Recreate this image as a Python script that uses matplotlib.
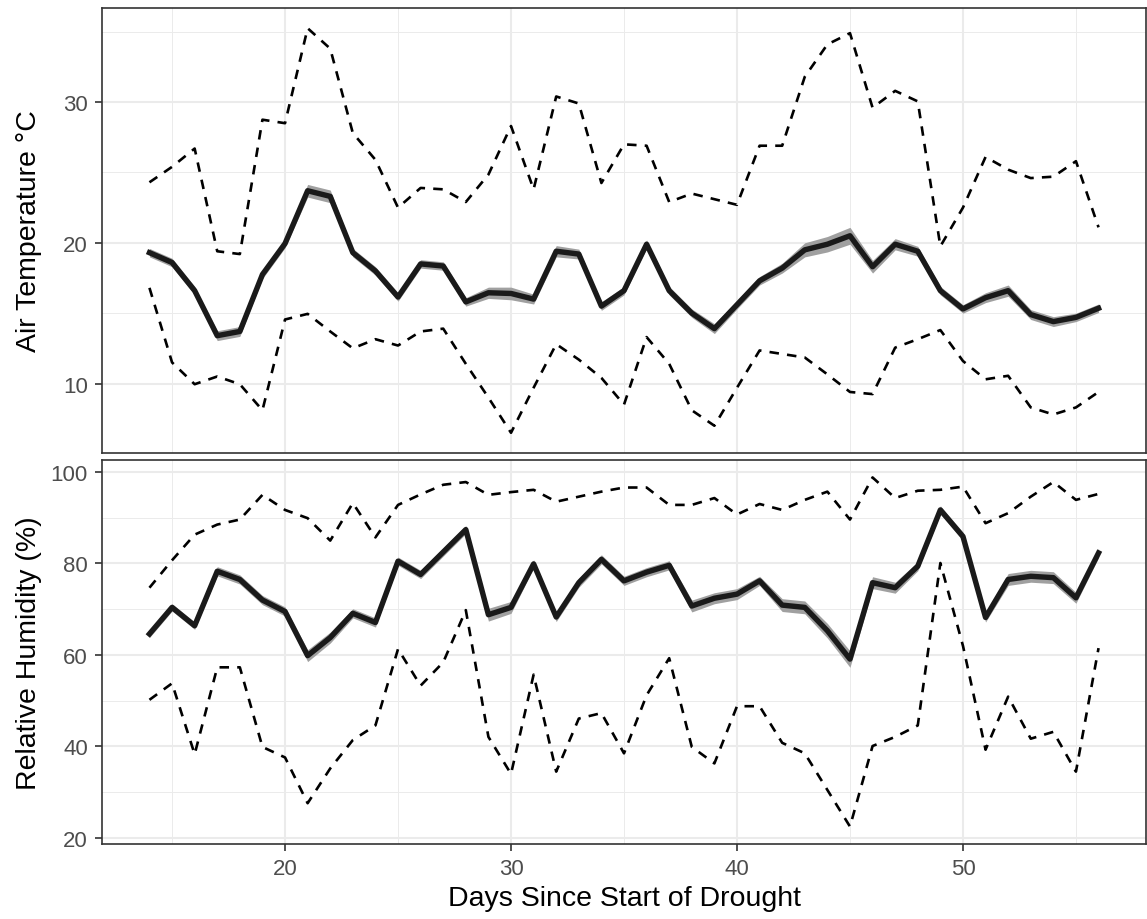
import numpy as np
import matplotlib

matplotlib.use('Agg')  # no display
import matplotlib.pyplot as plt
from matplotlib.ticker import MultipleLocator

plt.rcParams['font.family'] = ['Liberation Sans', 'DejaVu Sans']

# Data
days = list(range(14, 57))

temp_mean = [19.3, 18.6, 16.6, 13.4, 13.7, 17.75, 19.95, 23.7, 23.3, 19.3, 18.0,
             16.15, 18.5, 18.35, 15.8, 16.45, 16.4, 16.0, 19.4, 19.2, 15.5, 16.6,
             19.9, 16.6, 15.0, 13.9, 15.6, 17.3, 18.2, 19.5, 19.9, 20.5, 18.3,
             19.9, 19.4, 16.6, 15.3, 16.1, 16.6, 14.9, 14.4, 14.7, 15.35]
temp_se = [0.3, 0.3, 0.3, 0.35, 0.35, 0.3, 0.3, 0.45, 0.45, 0.3, 0.3,
           0.3, 0.3, 0.3, 0.3, 0.4, 0.45, 0.35, 0.4, 0.35, 0.3, 0.3,
           0.3, 0.3, 0.3, 0.35, 0.3, 0.3, 0.35, 0.5, 0.55, 0.6, 0.45,
           0.4, 0.35, 0.3, 0.3, 0.35, 0.4, 0.35, 0.35, 0.3, 0.3]
temp_max = [24.3, 25.4, 26.7, 19.4, 19.2, 28.75, 28.5, 35.25, 33.8, 27.8, 25.9,
            22.5, 23.9, 23.8, 22.9, 24.85, 28.3, 23.8, 30.4, 29.9, 24.25, 27.0,
            26.9, 22.9, 23.5, 23.1, 22.7, 26.9, 26.9, 31.8, 34.1, 34.9, 29.6,
            30.8, 30.05, 19.75, 22.5, 26.1, 25.2, 24.6, 24.7, 25.8, 21.1]
temp_min = [16.8, 11.5, 9.95, 10.5, 9.95, 8.1, 14.55, 14.95, 13.7, 12.5, 13.15,
            12.7, 13.7, 13.9, 11.4, 9.0, 6.5, 9.7, 12.8, 11.7, 10.4, 8.5,
            13.3, 11.4, 8.1, 7.0, 9.7, 12.35, 12.1, 11.85, 10.65, 9.4, 9.25,
            12.55, 13.15, 13.8, 11.6, 10.3, 10.55, 8.3, 7.8, 8.3, 9.4]

rh_mean = [64.6, 70.4, 66.4, 78.3, 76.5, 72.0, 69.5, 59.85, 63.8, 69.1, 67.1,
           80.5, 77.6, 82.5, 87.4, 68.8, 70.4, 79.9, 68.3, 75.8, 80.9, 76.2,
           78.1, 79.6, 70.7, 72.4, 73.3, 76.2, 70.9, 70.4, 65.3, 59.1, 75.8,
           74.7, 79.4, 91.7, 85.9, 68.2, 76.5, 77.2, 76.9, 72.5, 82.3]
rh_se = [0.8, 0.8, 0.8, 1.0, 1.0, 1.0, 1.0, 1.3, 1.2, 1.0, 1.0,
         0.9, 0.9, 0.9, 0.9, 1.4, 1.3, 0.9, 1.0, 1.0, 1.0, 1.0,
         1.0, 1.0, 1.3, 1.2, 1.2, 1.0, 1.4, 1.4, 1.6, 1.8, 1.3,
         1.2, 1.0, 0.9, 0.9, 1.0, 1.3, 1.3, 1.3, 1.2, 1.0]
rh_max = [74.7, 80.7, 86.3, 88.5, 89.6, 95.0, 91.7, 89.9, 85.0, 93.2, 85.7,
          92.8, 95.1, 97.2, 97.8, 95.0, 95.6, 96.1, 93.5, 94.6, 95.7, 96.6,
          96.6, 92.8, 92.8, 94.3, 90.7, 93.0, 91.7, 93.9, 95.7, 89.6, 98.8,
          94.3, 95.9, 96.1, 96.8, 88.8, 91.0, 94.6, 97.8, 93.9, 95.2]
rh_min = [50.2, 53.8, 38.3, 57.3, 57.3, 39.9, 37.6, 27.6, 35.2, 41.4, 44.6,
          61.3, 53.3, 58.4, 69.8, 42.1, 34.0, 55.7, 34.5, 46.1, 47.3, 38.5,
          51.2, 59.3, 39.9, 36.3, 48.8, 48.8, 40.8, 38.5, 30.5, 22.5, 40.1,
          42.1, 44.6, 80.1, 62.0, 39.3, 50.9, 41.7, 43.2, 34.5, 61.5]


def style_panel(ax, ymajor, yminor, show_x):
    """theme_bw-like look."""
    ax.set_facecolor('white')
    for s in ax.spines.values():
        s.set_color('#333333')
        s.set_linewidth(1.2)
        s.set_zorder(5)
    ax.xaxis.set_major_locator(MultipleLocator(10))
    ax.xaxis.set_minor_locator(MultipleLocator(5))
    ax.yaxis.set_major_locator(MultipleLocator(ymajor))
    ax.yaxis.set_minor_locator(MultipleLocator(yminor))
    ax.grid(which='major', color='#EBEBEB', linewidth=1.45)
    ax.grid(which='minor', color='#EBEBEB', linewidth=0.72)
    ax.set_axisbelow(True)
    ax.tick_params(which='minor', length=0)
    ax.tick_params(which='major', length=5.2, width=1.2, color='#333333',
                   labelsize=16, labelcolor='#4D4D4D', pad=5)
    if not show_x:
        ax.tick_params(axis='x', which='major', length=0, labelbottom=False)


def draw_series(ax, mean, se, hi, lo):
    x = np.array(days)
    m = np.array(mean)
    s = np.array(se)
    ax.fill_between(x, m - s, m + s, color='#A0A0A0', linewidth=0, zorder=2)
    ax.plot(x, m, color='#1A1A1A', linewidth=3.9, solid_joinstyle='round', zorder=3)
    for series in (hi, lo):
        ax.plot(x, series, color='black', linewidth=1.9,
                linestyle=(0, (3.6, 3.1)), dash_capstyle='butt', zorder=3)
    # ggplot style 5% expansion
    lo_v = min(min(lo), min(m - s))
    hi_v = max(max(hi), max(m + s))
    pad = (hi_v - lo_v) * 0.05
    ax.set_ylim(lo_v - pad, hi_v + pad)
    xpad = (max(days) - min(days)) * 0.05
    ax.set_xlim(min(days) - xpad, max(days) + xpad)


fig = plt.figure(figsize=(11.47, 9.2), dpi=100)
ax1 = fig.add_axes([102 / 1147, 1 - 454 / 920, 1044 / 1147, 445 / 920])
ax2 = fig.add_axes([102 / 1147, 1 - 845 / 920, 1044 / 1147, 384 / 920])

draw_series(ax1, temp_mean, temp_se, temp_max, temp_min)
style_panel(ax1, 10, 5, show_x=False)
ax1.set_ylabel('Air Temperature \u00b0C', fontsize=20.5)
ax1.yaxis.set_label_coords(-0.0575, 0.5)

draw_series(ax2, rh_mean, rh_se, rh_max, rh_min)
style_panel(ax2, 20, 10, show_x=True)
ax2.set_ylabel('Relative Humidity (%)', fontsize=20.5)
ax2.yaxis.set_label_coords(-0.0575, 0.5)
ax2.set_xlabel('Days Since Start of Drought', fontsize=20.5)
ax2.xaxis.set_label_coords(0.5, -0.108)

fig.savefig('out.png', dpi=100)
plt.close(fig)
